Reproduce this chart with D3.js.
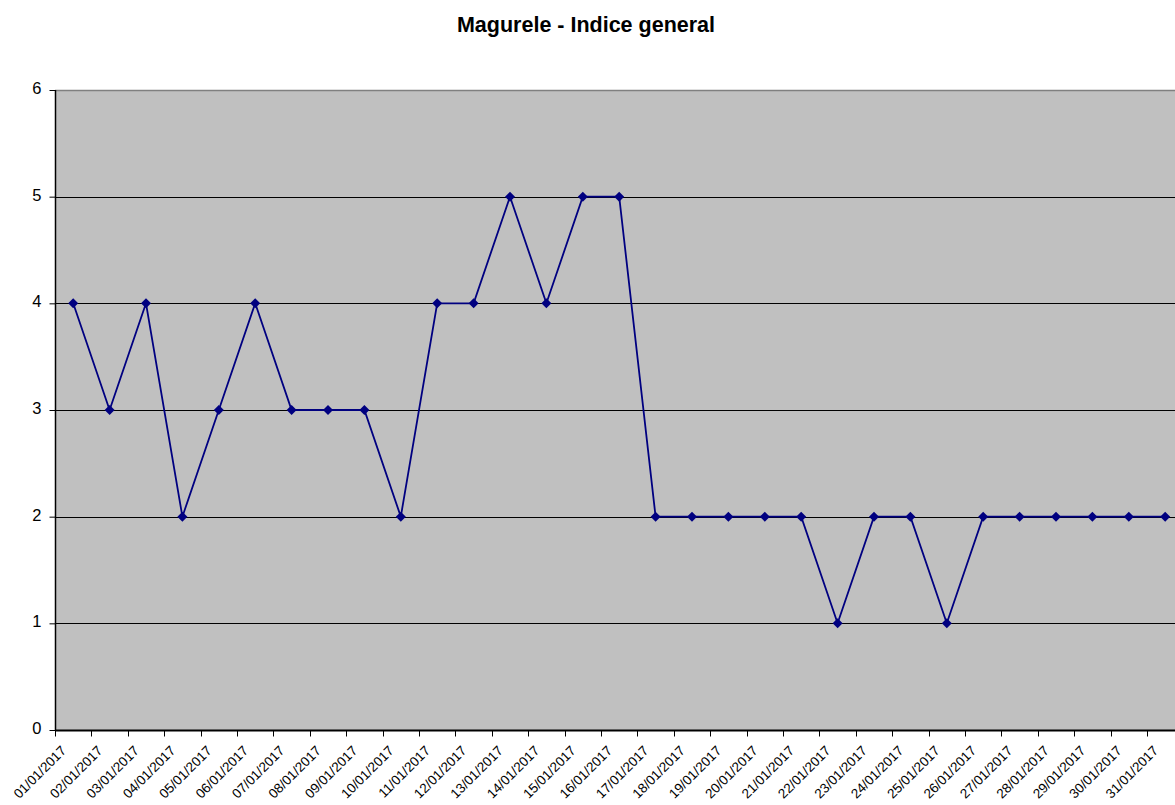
<!DOCTYPE html>
<html>
<head>
<meta charset="utf-8">
<script src="https://cdn.jsdelivr.net/npm/d3@7"></script>
<style>
  body { margin: 0; background: #fff; }
  svg { display: block; font-family: "Liberation Sans", Arial, sans-serif; }
</style>
</head>
<body>
<script>
const svgWidth = 1175
const svgHeight = 805

const chartTitle = "Magurele - Indice general"

const days = [
  "01/01/2017", "02/01/2017", "03/01/2017", "04/01/2017", "05/01/2017", "06/01/2017",
  "07/01/2017", "08/01/2017", "09/01/2017", "10/01/2017", "11/01/2017", "12/01/2017",
  "13/01/2017", "14/01/2017", "15/01/2017", "16/01/2017", "17/01/2017", "18/01/2017",
  "19/01/2017", "20/01/2017", "21/01/2017", "22/01/2017", "23/01/2017", "24/01/2017",
  "25/01/2017", "26/01/2017", "27/01/2017", "28/01/2017", "29/01/2017", "30/01/2017",
  "31/01/2017"
]

const indexValues = [
  4, 3, 4, 2, 3, 4, 3, 3, 3, 2, 4, 4, 5, 4, 5, 5,
  2, 2, 2, 2, 2, 1, 2, 2, 1, 2, 2, 2, 2, 2, 2
]

const yTicks = [0, 1, 2, 3, 4, 5, 6]

const margin = { top: 90, left: 55, bottom: 75 }
const bandStep = 36.4
const chartWidth = bandStep * days.length
const chartHeight = svgHeight - margin.top - margin.bottom

const lineColor = "#000080"

const svg = d3.select("body").append("svg")
    .attr("width", svgWidth)
    .attr("height", svgHeight)

svg.append("text")
    .attr("x", 586)
    .attr("y", 32)
    .attr("text-anchor", "middle")
    .attr("font-size", "21.5px")
    .attr("font-weight", "bold")
    .text(chartTitle)

const chartG = svg.append("g")
    .attr("transform", `translate(${margin.left}, ${margin.top})`)

const x = d3.scaleBand()
    .domain(days)
    .range([0, chartWidth])

const y = d3.scaleLinear()
    .domain([0, 6])
    .range([chartHeight, 0])

// plot area
chartG.append("rect")
    .attr("width", chartWidth)
    .attr("height", chartHeight)
    .attr("fill", "#c0c0c0")

// gridlines
chartG.append("g")
    .selectAll("line")
    .data(yTicks.filter(t => t > 0))
    .join("line")
    .attr("x1", 0)
    .attr("x2", chartWidth)
    .attr("y1", d => Math.round(y(d)) + 0.5)
    .attr("y2", d => Math.round(y(d)) + 0.5)
    .attr("stroke", d => d === 6 ? "#808080" : "#000")
    .attr("stroke-width", d => d === 6 ? 1.5 : 1)

// y axis
const yAxis = d3.axisLeft(y)
    .tickValues(yTicks)
    .tickSize(6)
    .tickPadding(8)
    .tickFormat(d3.format("d"))

const yAxisG = chartG.append("g")
    .attr("transform", "translate(0.5, 0)")
    .call(yAxis)
yAxisG.select(".domain").attr("d", `M0,${y(6)}V${chartHeight}`).attr("stroke", "#000").attr("stroke-width", 1.5)
yAxisG.selectAll(".tick line").attr("stroke", "#000")
yAxisG.selectAll("text")
    .attr("font-size", "16.5px")
    .attr("font-family", "Liberation Sans, Arial, sans-serif")
    .attr("fill", "#000")
    .attr("dy", "0.22em")

// x axis, ticks between categories
const xAxisG = chartG.append("g")
    .attr("transform", `translate(0, ${chartHeight + 0.5})`)

xAxisG.append("line")
    .attr("x1", 0)
    .attr("x2", chartWidth)
    .attr("stroke", "#000")
    .attr("stroke-width", 2)

xAxisG.selectAll(".xtick")
    .data(days)
    .join("line")
    .attr("class", "xtick")
    .attr("x1", d => Math.round(x(d)) + 0.5)
    .attr("x2", d => Math.round(x(d)) + 0.5)
    .attr("y1", 0)
    .attr("y2", 6)
    .attr("stroke", "#000")

xAxisG.selectAll(".xlabel")
    .data(days)
    .join("text")
    .attr("class", "xlabel")
    .attr("text-anchor", "end")
    .attr("font-size", "13.5px")
    .attr("transform", d => `translate(${x(d) + 12}, 21) rotate(-45)`)
    .text(d => d)

// series
const points = days.map((d, i) => ({ day: d, value: indexValues[i] }))

const line = d3.line()
    .x(d => x(d.day) + x.bandwidth() / 2)
    .y(d => y(d.value))

chartG.append("path")
    .attr("d", line(points))
    .attr("fill", "none")
    .attr("stroke", lineColor)
    .attr("stroke-width", 1.8)

chartG.append("g")
    .selectAll("path")
    .data(points)
    .join("path")
    .attr("d", d3.symbol(d3.symbolSquare, 50))
    .attr("transform", d => `translate(${x(d.day) + x.bandwidth() / 2}, ${y(d.value)}) rotate(45)`)
    .attr("fill", lineColor)
</script>
</body>
</html>
